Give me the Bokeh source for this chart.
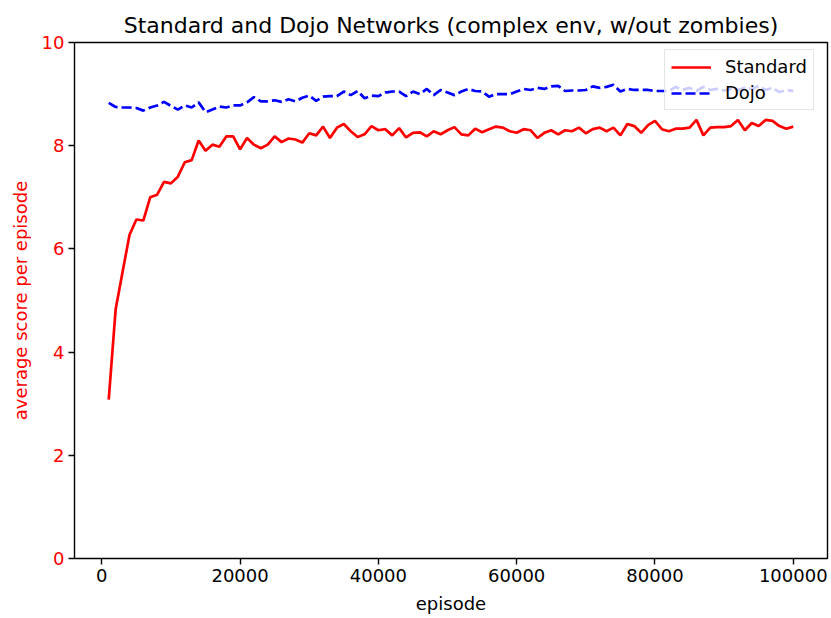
from bokeh.plotting import figure
from bokeh.models import Range1d, FixedTicker, BasicTickFormatter, Legend, LegendItem
from bokeh.embed import file_html
from bokeh.resources import INLINE

episodes = [k * 1000 for k in range(1, 101)]

standard = [
    3.08, 4.83, 5.55, 6.27, 6.57, 6.55, 7.00, 7.05, 7.30, 7.27,
    7.40, 7.68, 7.72, 8.10, 7.90, 8.02, 7.98, 8.18, 8.18, 7.93,
    8.15, 8.02, 7.95, 8.02, 8.18, 8.07, 8.14, 8.12, 8.06, 8.24,
    8.20, 8.37, 8.15, 8.35, 8.42, 8.28, 8.17, 8.22, 8.38, 8.30,
    8.32, 8.20, 8.34, 8.16, 8.25, 8.26, 8.18, 8.28, 8.22, 8.30,
    8.36, 8.22, 8.20, 8.33, 8.26, 8.32, 8.37, 8.35, 8.28, 8.25,
    8.32, 8.30, 8.15, 8.25, 8.30, 8.22, 8.30, 8.28, 8.35, 8.24,
    8.32, 8.35, 8.28, 8.35, 8.20, 8.42, 8.38, 8.25, 8.40, 8.48,
    8.32, 8.28, 8.33, 8.33, 8.35, 8.50, 8.20, 8.35, 8.36, 8.36,
    8.38, 8.50, 8.30, 8.44, 8.38, 8.50, 8.48, 8.38, 8.33, 8.37,
]

dojo = [
    8.83, 8.75, 8.74, 8.74, 8.73, 8.68, 8.74, 8.78, 8.85, 8.77,
    8.70, 8.78, 8.74, 8.84, 8.65, 8.70, 8.76, 8.74, 8.78, 8.78,
    8.84, 8.94, 8.86, 8.86, 8.88, 8.85, 8.90, 8.86, 8.93, 8.97,
    8.87, 8.95, 8.96, 8.96, 9.05, 8.98, 9.06, 8.92, 8.97, 8.96,
    9.03, 9.05, 9.05, 8.96, 9.05, 9.00, 9.10, 8.98, 9.08, 9.03,
    8.98, 9.05, 9.10, 9.06, 9.05, 8.95, 9.00, 9.00, 9.00, 9.05,
    9.10, 9.08, 9.12, 9.10, 9.15, 9.16, 9.06, 9.07, 9.07, 9.08,
    9.15, 9.12, 9.14, 9.18, 9.05, 9.10, 9.08, 9.08, 9.08, 9.06,
    9.06, 9.06, 9.14, 9.08, 9.12, 9.06, 9.14, 9.08, 9.10, 9.07,
    9.10, 9.08, 9.12, 9.10, 9.16, 9.08, 9.12, 9.04, 9.08, 9.06,
]

x_ticks = [0, 20000, 40000, 60000, 80000, 100000]
y_ticks = [0, 2, 4, 6, 8, 10]

FONT = "DejaVu Sans"

p = figure(
    width=831, height=618,
    output_backend="svg", toolbar_location=None,
    x_range=Range1d(-3950, 104950), y_range=Range1d(0, 10),
    min_border_left=74, min_border_right=4, min_border_top=42, min_border_bottom=60,
    title="Standard and Dojo Networks (complex env, w/out zombies)",
)
p.background_fill_color = "white"
p.border_fill_color = "white"
p.outline_line_color = "black"
p.outline_line_width = 1.4
p.grid.visible = False

p.title.align = "center"
p.title.text_font = FONT
p.title.text_font_size = "22px"
p.title.text_font_style = "normal"
p.title.text_color = "black"

r1 = p.line(episodes, standard, line_color="red", line_width=2.7)
r2 = p.line(episodes, dojo, line_color="blue", line_width=2.7, line_dash="10 4")

for ax in (p.xaxis[0], p.yaxis[0]):
    ax.axis_line_color = None
    ax.major_tick_out = 6
    ax.major_tick_in = 0
    ax.minor_tick_line_color = None
    ax.major_tick_line_width = 1.4
    ax.major_tick_line_color = "black"
    ax.major_label_text_font = FONT
    ax.major_label_text_font_size = "18px"
    ax.axis_label_text_font = FONT
    ax.axis_label_text_font_size = "18px"
    ax.axis_label_text_font_style = "normal"
    ax.major_label_standoff = 4

p.xaxis.ticker = FixedTicker(ticks=x_ticks)
p.xaxis.formatter = BasicTickFormatter(use_scientific=False)
p.xaxis.axis_label = "episode"
p.xaxis.axis_label_standoff = 8
p.xaxis.major_label_text_color = "black"
p.xaxis.axis_label_text_color = "black"

p.yaxis.ticker = FixedTicker(ticks=y_ticks)
p.yaxis.axis_label = "average score per episode"
p.yaxis.axis_label_standoff = 8
p.yaxis.major_label_text_color = "red"
p.yaxis.axis_label_text_color = "red"

legend = Legend(
    items=[LegendItem(label="Standard", renderers=[r1]),
           LegendItem(label="Dojo", renderers=[r2])],
    location=(590, 448),
)
legend.label_text_font = FONT
legend.label_text_font_size = "18px"
legend.label_text_color = "black"
legend.background_fill_color = "white"
legend.background_fill_alpha = 0.8
legend.border_line_color = "#cccccc"
legend.border_line_width = 1.4
legend.glyph_width = 40
legend.glyph_height = 20
legend.label_height = 20
legend.spacing = 5
legend.padding = 6
legend.margin = 0
legend.label_standoff = 14
p.add_layout(legend)

open("out.html", "w").write(file_html(p, INLINE))
